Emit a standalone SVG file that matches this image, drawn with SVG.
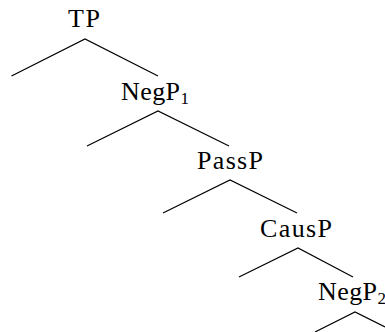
<svg xmlns="http://www.w3.org/2000/svg" width="385" height="332" viewBox="0 0 385 332">
<style>
.lbl{font-family:"Liberation Serif","DejaVu Serif",serif;font-size:26px;fill:#000}
.sub{font-size:17px}
.edge{fill:none;stroke:#000;stroke-width:1.2;stroke-linejoin:miter}
</style>
<rect width="385" height="332" fill="#fff"/>
<g id="connectors">
<polyline class="edge" points="11.5,76 85,39 158,76"/>
<polyline class="edge" points="87,146 158,111 229,146"/>
<polyline class="edge" points="163,213 230,180 297,213"/>
<polyline class="edge" points="239,277 298,248 353,277"/>
<polyline class="edge" points="315,332 355,312 385,327"/>
</g>
<g id="TP"><text class="lbl" x="68" y="27" textLength="32">TP</text></g>
<g id="NegP1"><text class="lbl" x="121" y="100"><tspan textLength="59">NegP</tspan><tspan class="sub" dy="4">1</tspan></text></g>
<g id="PassP"><text class="lbl" x="197" y="169" textLength="66">PassP</text></g>
<g id="CausP"><text class="lbl" x="260" y="237" textLength="72">CausP</text></g>
<g id="NegP2"><text class="lbl" x="318" y="300"><tspan textLength="59">NegP</tspan><tspan class="sub" dy="4">2</tspan></text></g>
</svg>
